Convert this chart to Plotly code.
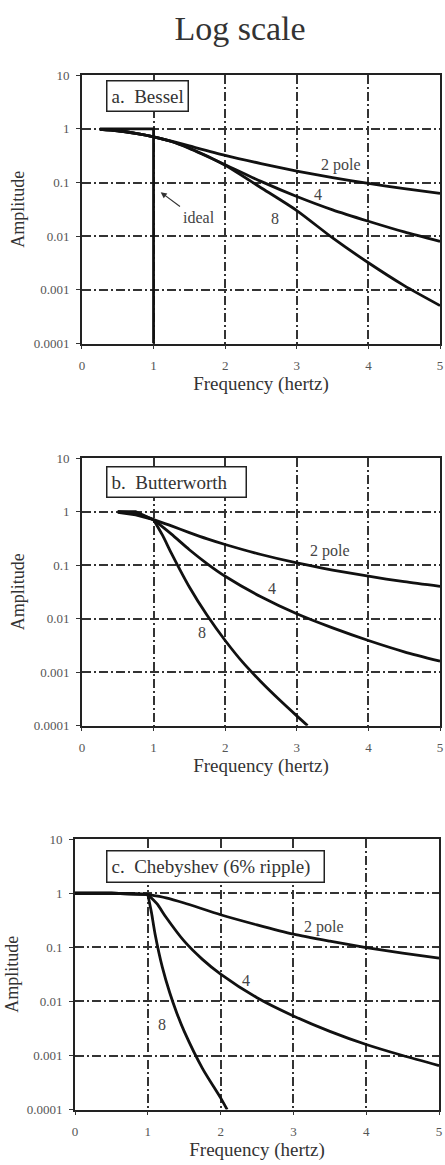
import math
import plotly.graph_objects as go

# ---------------- data ----------------
freq_ticks = [0, 1, 2, 3, 4, 5]
amp_ticks = [10, 1, 0.1, 0.01, 0.001, 0.0001]
amp_tick_text = ["10", "1", "0.1", "0.01", "0.001", "0.0001"]

# a. Bessel
bessel_f = [0.25, 0.5, 0.75, 1, 1.25, 1.5, 2, 2.5, 3, 3.5, 4, 4.5, 5]
bessel_2 = [0.98, 0.92, 0.825, 0.71, 0.59, 0.48, 0.32, 0.225, 0.163, 0.123, 0.096, 0.077, 0.063]
bessel_4 = [0.98, 0.92, 0.82, 0.71, 0.58, 0.43, 0.215, 0.105, 0.055, 0.031, 0.019, 0.012, 0.008]
bessel_8 = [0.98, 0.92, 0.82, 0.71, 0.58, 0.44, 0.21, 0.08, 0.030, 0.0093, 0.0032, 0.0012, 0.00051]
ideal_f = [0.25, 1, 1]
ideal_a = [1, 1, 0.0001]

# b. Butterworth
butter_f = [0.5, 0.75, 1, 1.25, 1.5, 1.75, 2, 2.5, 3, 3.5, 4, 4.5, 5]
butter_2 = [0.97, 0.87, 0.707, 0.54, 0.406, 0.31, 0.243, 0.158, 0.110, 0.081, 0.062, 0.049, 0.040]
butter_4 = [1.0, 0.95, 0.707, 0.379, 0.194, 0.106, 0.062, 0.0256, 0.0123, 0.0067, 0.0039, 0.0024, 0.0016]
butter_8_f = [0.5, 0.75, 1, 1.125, 1.25, 1.5, 1.75, 2, 2.25, 2.5, 2.75, 3, 3.15]
butter_8 = [1.0, 0.995, 0.707, 0.363, 0.166, 0.039, 0.0114, 0.0039, 0.0015, 0.00066, 0.00031, 0.000152, 0.0001]

# c. Chebyshev (6% ripple)
cheb_2_f = [0, 0.5, 1, 1.25, 1.5, 2, 2.5, 3, 3.5, 4, 4.5, 5]
cheb_2 = [1.0, 1.0, 0.95, 0.82, 0.66, 0.40, 0.26, 0.175, 0.13, 0.099, 0.078, 0.063]
cheb_4_f = [0, 0.5, 1, 1.125, 1.25, 1.5, 1.75, 2, 2.5, 3, 3.5, 4, 4.5, 5]
cheb_4 = [1.0, 1.0, 0.95, 0.64, 0.36, 0.13, 0.06, 0.032, 0.0117, 0.0054, 0.0028, 0.0016, 0.001, 0.00065]
cheb_8_f = [0, 0.5, 1, 1.05, 1.1, 1.2, 1.3, 1.4, 1.5, 1.75, 2, 2.09]
cheb_8 = [1.0, 1.0, 0.95, 0.44, 0.175, 0.0425, 0.0146, 0.006, 0.0028, 0.00058, 0.000165, 0.0001]

panel_titles = ["a.\u00a0 Bessel",
                "b.\u00a0 Butterworth\u00a0\u00a0\u00a0",
                "c.\u00a0 Chebyshev (6% ripple)\u00a0\u00a0"]

# ---------------- figure ----------------
W, H = 445, 1165
SERIF = "Liberation Serif, Times New Roman, serif"
INK = "#111111"
GRID = "#333333"

# panel boxes in pixels: (left, right, top, bottom)
panels_px = [(80, 443, 69, 341), (80, 443, 457, 728), (73, 442, 843, 1117)]

fig = go.Figure()


def add_line(fx, ay, xa, ya, shape):
    fig.add_trace(go.Scatter(
        x=fx, y=ay, xaxis=xa, yaxis=ya, mode="lines",
        line=dict(color=INK, width=2.8, shape=shape, smoothing=0.7 if shape == "spline" else None),
        showlegend=False, hoverinfo="skip"))


def add_curve(fx, ay, xa, ya, split):
    if split:
        k = fx.index(1)
        add_line(fx[:k + 1], ay[:k + 1], xa, ya, "linear")   # flat passband
        add_line(fx[k:], ay[k:], xa, ya, "spline")           # roll-off
    else:
        add_line(fx, ay, xa, ya, "spline")


series = [
    [(bessel_f, bessel_2), (bessel_f, bessel_4), (bessel_f, bessel_8)],
    [(butter_f, butter_2), (butter_f, butter_4), (butter_8_f, butter_8)],
    [(cheb_2_f, cheb_2), (cheb_4_f, cheb_4), (cheb_8_f, cheb_8)],
]

add_line(ideal_f, ideal_a, "x", "y", "linear")
for i, group in enumerate(series):
    xa = "x" if i == 0 else f"x{i+1}"
    ya = "y" if i == 0 else f"y{i+1}"
    for fx, ay in group:
        add_curve(fx, ay, xa, ya, split=(i > 0))

for i, (l, r, t, b) in enumerate(panels_px):
    sfx = "" if i == 0 else str(i + 1)
    fig.layout[f"xaxis{sfx}"] = dict(
        domain=[l / W, r / W], anchor=f"y{sfx}", range=[0, 5],
        tickvals=freq_ticks, ticks="outside", ticklen=4, tickwidth=1.2, tickcolor="#333",
        showgrid=True, gridcolor=GRID, gridwidth=1.9, griddash="9px,3px,2px,3px",
        showline=True, linecolor="#222", linewidth=1.6, mirror=True, zeroline=False,
        tickfont=dict(family=SERIF, size=13, color="#555"), ticklabelstandoff=5,
        ticklabeloverflow="allow",
        title=dict(text="Frequency (hertz)", font=dict(family=SERIF, size=19, color="#333"), standoff=2),
    )
    fig.layout[f"yaxis{sfx}"] = dict(
        domain=[1 - b / H, 1 - t / H], anchor=f"x{sfx}", type="log", range=[-4, 1],
        tickvals=amp_ticks, ticktext=amp_tick_text, ticks="outside", ticklen=4, tickwidth=1.2,
        tickcolor="#333",
        showgrid=True, gridcolor=GRID, gridwidth=2.2, griddash="9px,3px,2px,3px",
        showline=True, linecolor="#222", linewidth=1.6, mirror=True, zeroline=False,
        tickfont=dict(family=SERIF, size=13, color="#555"), ticklabelstandoff=4,
        title=dict(text="Amplitude", font=dict(family=SERIF, size=18, color="#333"), standoff=4),
    )

# panel labels (boxed)
box_pos = [(0.34, 0.61), (0.34, 0.55), (0.43, 0.49)]
for i, (txt, (bx, by)) in enumerate(zip(panel_titles, box_pos)):
    sfx = "" if i == 0 else str(i + 1)
    fig.add_annotation(x=bx, y=by, xref=f"x{sfx}", yref=f"y{sfx}", text=txt,
                       showarrow=False, xanchor="left", yanchor="middle",
                       font=dict(family=SERIF, size=19, color="#333"),
                       bgcolor="white", bordercolor="#222", borderwidth=1.5, borderpad=4)

# curve labels
labels = [
    (0, "2 pole", 3.62, 0.21), (0, "4", 3.29, 0.061), (0, "8", 2.69, 0.021),
    (1, "2 pole", 3.47, 0.18), (1, "4", 2.65, 0.037), (1, "8", 1.67, 0.0055),
    (2, "2 pole", 3.42, 0.234), (2, "4", 2.35, 0.0247), (2, "8", 1.19, 0.0037),
]
for i, txt, lx, ly in labels:
    sfx = "" if i == 0 else str(i + 1)
    fig.add_annotation(x=lx, y=math.log10(ly), xref=f"x{sfx}", yref=f"y{sfx}", text=txt,
                       showarrow=False, font=dict(family=SERIF, size=16, color="#444"))

# "ideal" arrow annotation
fig.add_annotation(x=1.10, y=math.log10(0.066), xref="x", yref="y",
                   ax=1.39, ay=math.log10(0.034), axref="x", ayref="y",
                   text="", showarrow=True, arrowhead=2, arrowsize=1, arrowwidth=1.2,
                   arrowcolor="#333")
fig.add_annotation(x=1.63, y=math.log10(0.022), xref="x", yref="y", text="ideal",
                   showarrow=False, font=dict(family=SERIF, size=16, color="#444"))

fig.update_layout(
    width=W, height=H, margin=dict(l=0, r=0, t=0, b=0),
    paper_bgcolor="white", plot_bgcolor="white",
    title=dict(text="Log scale", x=240 / W, xanchor="center", y=1 - 28 / H, yanchor="middle",
               font=dict(family=SERIF, size=34, color="#333")),
)

fig.write_html("out.html")
